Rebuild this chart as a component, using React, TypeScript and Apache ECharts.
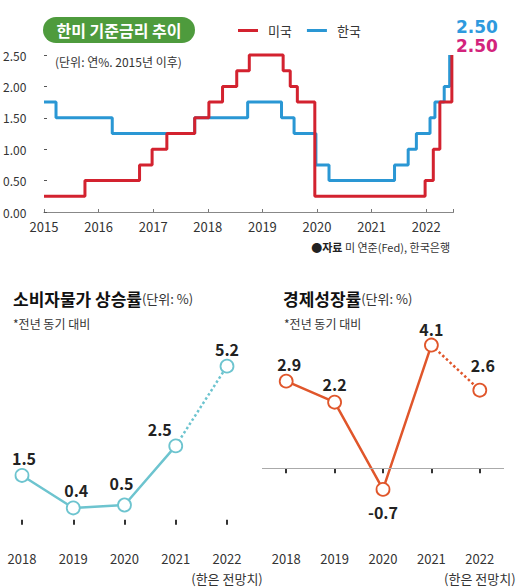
import React, { useEffect, useRef } from "react";
import * as echarts from "echarts";

// ---- data ----
// 미국 (Fed) 기준금리: [시점(연), 금리] 변경 시점
const usRate: [number, number][] = [
  [2015, 0.25], [2015.75, 0.5], [2016.75, 0.75], [2016.98, 1.0], [2017.25, 1.25],
  [2017.76, 1.5], [2018.02, 1.75], [2018.27, 2.0], [2018.53, 2.25], [2018.76, 2.5],
  [2019.38, 2.25], [2019.51, 2.0], [2019.64, 1.75], [2019.96, 0.25], [2021.98, 0.5],
  [2022.13, 1.0], [2022.25, 1.75], [2022.47, 2.5],
];
// 한국 기준금리
const krRate: [number, number][] = [
  [2015, 1.75], [2015.22, 1.5], [2016.25, 1.25], [2017.76, 1.5], [2018.73, 1.75],
  [2019.35, 1.5], [2019.58, 1.25], [2019.98, 0.75], [2020.22, 0.5], [2021.42, 0.75],
  [2021.67, 1.0], [2021.82, 1.25], [2022.07, 1.5], [2022.16, 1.75], [2022.33, 2.0],
  [2022.43, 2.5],
];
const latestKr = 2.5;
const latestUs = 2.5;

const years = ["2018", "2019", "2020", "2021", "2022"];
const cpiValues = [1.5, 0.4, 0.5, 2.5, 5.2];
const gdpValues = [2.9, 2.2, -0.7, 4.1, 2.6];
const forecastIndex = 4; // 2022 = 한은 전망치

// ---- layout / style (not data) ----
const cpiLabelOffsets: [number, number][] = [[2, 0], [3, -1], [-3, -5], [-16, 1], [0, 0]];
const gdpLabelOffsets: [number, number][] = [[3, 0], [0, -1], [0, 0], [0, 1], [3, -8]];

const FONT = '"Noto Sans CJK KR", "Noto Sans", sans-serif';
const RED = "#d3222f";
const BLUE = "#2a97d4";
const TEAL = "#6dc4cf";
const ORANGE = "#e0562b";

function splitSeries(values: number[], color: string, xi: number, yi: number, offsets: [number, number][], extra: any = {}) {
  const labelBase = {
    show: true,
    position: "top",
    distance: 2,
    fontSize: 16,
    fontWeight: "bold",
    color: "#222",
    fontFamily: FONT,
  };
  const solidData = values.map((v, i) => {
    if (i >= forecastIndex) return "-";
    const item: any = { value: v, label: { offset: offsets[i] } };
    if (v < 0) item.label = { position: "bottom", distance: 7, offset: offsets[i] };
    return item;
  });
  const dottedData = values.map((v, i) => {
    if (i < forecastIndex - 1) return "-";
    if (i === forecastIndex - 1) return { value: v, symbol: "none", label: { show: false } };
    return { value: v, label: { offset: offsets[i] } };
  });
  const common = {
    type: "line",
    xAxisIndex: xi,
    yAxisIndex: yi,
    symbol: "circle",
    symbolSize: 13,
    itemStyle: { color: "#fff", borderColor: color, borderWidth: 1.8 },
    label: labelBase,
    connectNulls: false,
  };
  return [
    { ...common, z: 3, data: solidData, lineStyle: { color, width: 2.5 } },
    { ...common, z: 2, data: dottedData, lineStyle: { color, width: 2.5, type: "dotted" }, ...extra },
  ];
}

export default function App() {
  const ref = useRef<HTMLDivElement>(null);
  useEffect(() => {
    document.body.style.margin = "0";
    const chart = echarts.init(ref.current!, null, { renderer: "svg" });
    const bottomXAxis = (gridIndex: number, boundaryGap: boolean) => ({
      type: "category",
      gridIndex,
      data: years,
      boundaryGap,
      axisLine: { show: false },
      axisTick: { show: true, alignWithLabel: true, interval: 0, length: 5, lineStyle: { color: "#333", width: 2 } },
      axisLabel: {
        interval: 0,
        fontSize: 13,
        color: "#333",
        margin: 12,
        lineHeight: 20,
        fontFamily: FONT,
        formatter: (v: string, i: number) => (i === forecastIndex ? `${v}\n(한은 전망치)` : v),
      },
      splitLine: { show: false },
    });
    const titleRich = {
      a: { fontSize: 17, fontWeight: "bold", fill: "#111", fontFamily: FONT },
      b: { fontSize: 13, fill: "#333", fontFamily: FONT },
    };
    const badgeFont = '"DejaVu Sans", sans-serif';
    const option: any = {
      animation: false,
      textStyle: { fontFamily: FONT },
      grid: [
        { left: 41, right: 76.5, top: 55, bottom: 376 },
        { left: 22, right: 303, top: 342.5, bottom: 47 },
        { left: 262, right: 26, top: 318, bottom: 47 },
      ],
      legend: {
        data: ["미국", "한국"],
        left: 233,
        top: 19,
        icon: "rect",
        itemWidth: 20,
        itemHeight: 3,
        itemGap: 15,
        textStyle: { fontSize: 13, color: "#333", fontFamily: FONT, padding: [0, 0, 0, 5] },
      },
      xAxis: [
        {
          type: "value",
          gridIndex: 0,
          min: 2015,
          max: 2022.5,
          interval: 1,
          axisLine: { show: true, lineStyle: { color: "#888", width: 1.2 } },
          axisTick: { show: true, inside: true, length: 3, lineStyle: { color: "#777" } },
          axisLabel: {
            fontSize: 13,
            color: "#333",
            margin: 8,
            fontFamily: FONT,
            formatter: (v: number) => (Number.isInteger(v) ? String(v) : ""),
          },
          splitLine: { show: false },
        },
        bottomXAxis(1, false),
        bottomXAxis(2, true),
      ],
      yAxis: [
        {
          type: "value",
          gridIndex: 0,
          min: 0,
          max: 2.5,
          interval: 0.5,
          axisLine: { show: false },
          axisTick: { show: true, inside: true, length: 3, lineStyle: { color: "#555" } },
          axisLabel: {
            fontSize: 12,
            color: "#333",
            align: "left",
            margin: 41,
            fontFamily: FONT,
            formatter: (v: number) => v.toFixed(2),
          },
          splitLine: { show: false },
        },
        { type: "value", gridIndex: 1, min: -0.55, max: 6, show: false },
        { type: "value", gridIndex: 2, min: -2.25, max: 5, show: false },
      ],
      series: [
        {
          name: "한국",
          type: "line",
          step: "end",
          xAxisIndex: 0,
          yAxisIndex: 0,
          data: krRate,
          showSymbol: false,
          clip: false,
          lineStyle: { color: BLUE, width: 3 },
          itemStyle: { color: BLUE },
        },
        {
          name: "미국",
          type: "line",
          step: "end",
          xAxisIndex: 0,
          yAxisIndex: 0,
          data: usRate,
          showSymbol: false,
          clip: false,
          lineStyle: { color: RED, width: 3 },
          itemStyle: { color: RED },
        },
        ...splitSeries(cpiValues, TEAL, 1, 1, cpiLabelOffsets),
        ...splitSeries(gdpValues, ORANGE, 2, 2, gdpLabelOffsets, {
          markLine: {
            silent: true,
            symbol: "none",
            label: { show: false },
            lineStyle: { color: "#aaa", width: 1.2, type: "solid" },
            data: [{ yAxis: 0 }],
          },
        }),
      ],
      graphic: [
        {
          type: "rect",
          shape: { x: 43, y: 17, width: 152, height: 26, r: 13 },
          style: { fill: "#4e9b3d" },
        },
        {
          type: "text",
          x: 119,
          y: 30,
          style: {
            text: "한미 기준금리 추이",
            fill: "#fff",
            fontSize: 16,
            fontWeight: "bold",
            fontFamily: FONT,
            align: "center",
            verticalAlign: "middle",
          },
        },
        {
          type: "text",
          x: 55,
          y: 61,
          style: {
            text: "(단위: 연%. 2015년 이후)",
            fill: "#333",
            fontSize: 12,
            fontFamily: FONT,
            verticalAlign: "middle",
          },
        },
        {
          type: "text",
          x: 456,
          y: 27,
          style: {
            text: latestKr.toFixed(2),
            fill: "#2e9ade",
            fontSize: 17,
            fontWeight: "bold",
            fontFamily: badgeFont,
            verticalAlign: "middle",
          },
        },
        {
          type: "text",
          x: 456,
          y: 46,
          style: {
            text: latestUs.toFixed(2),
            fill: "#d3237c",
            fontSize: 17,
            fontWeight: "bold",
            fontFamily: badgeFont,
            verticalAlign: "middle",
          },
        },
        {
          type: "text",
          x: 450,
          y: 247,
          style: {
            text: "{b|●자료} 미 연준(Fed), 한국은행",
            fill: "#333",
            fontSize: 11,
            fontFamily: FONT,
            align: "right",
            verticalAlign: "middle",
            rich: { b: { fontWeight: "bold", fontSize: 11, fill: "#222", fontFamily: FONT } },
          },
        },
        {
          type: "text",
          x: 13,
          y: 298,
          style: { text: "{a|소비자물가 상승률}{b|(단위: %)}", verticalAlign: "middle", rich: titleRich },
        },
        {
          type: "text",
          x: 13,
          y: 323,
          style: { text: "*전년 동기 대비", fontSize: 12, fill: "#333", fontFamily: FONT, verticalAlign: "middle" },
        },
        {
          type: "text",
          x: 283,
          y: 298,
          style: { text: "{a|경제성장률}{b|(단위: %)}", verticalAlign: "middle", rich: titleRich },
        },
        {
          type: "text",
          x: 284,
          y: 323,
          style: { text: "*전년 동기 대비", fontSize: 12, fill: "#333", fontFamily: FONT, verticalAlign: "middle" },
        },
      ],
    };
    chart.setOption(option);
    return () => chart.dispose();
  }, []);
  return <div ref={ref} style={{ width: 530, height: 588 }} />;
}
